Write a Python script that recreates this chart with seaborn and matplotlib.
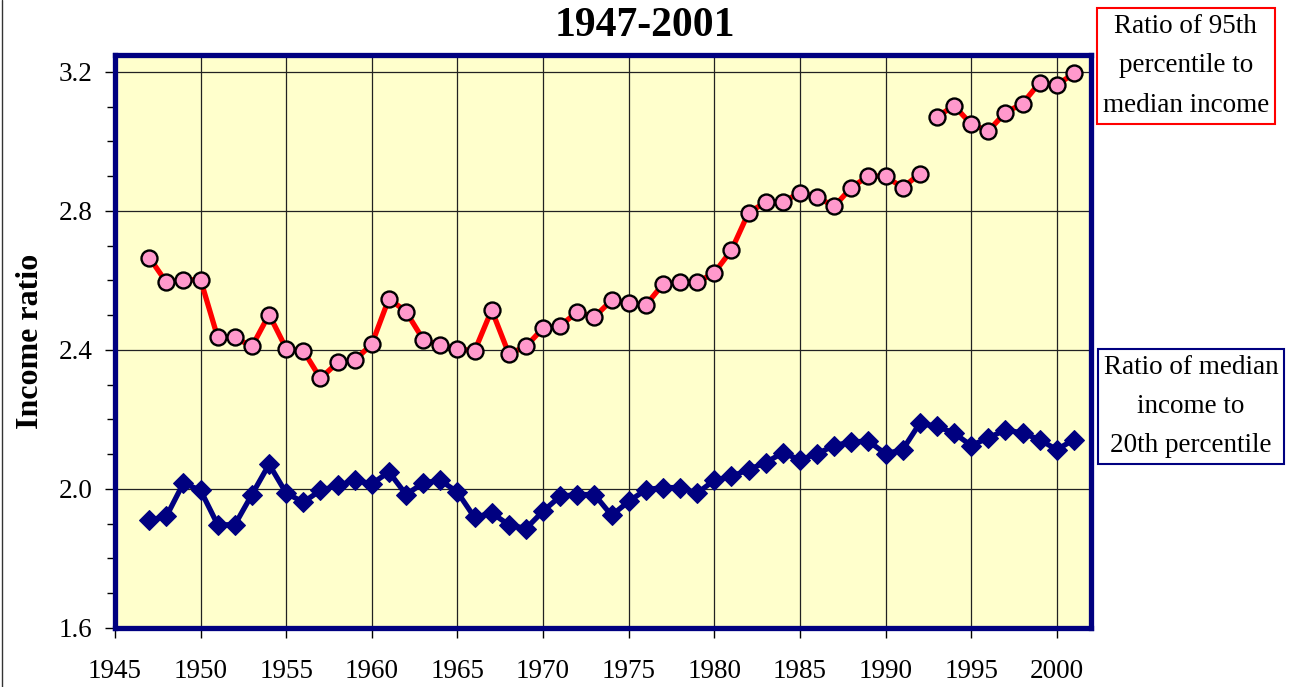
import numpy as np
import pandas as pd
import matplotlib
matplotlib.use('Agg')
import matplotlib.pyplot as plt
from matplotlib.ticker import MultipleLocator, FormatStrFormatter
from matplotlib.lines import Line2D
import seaborn as sns

# Data
years = list(range(1947, 2002))

ratio_95_median = [2.666, 2.595, 2.602, 2.602, 2.436, 2.436, 2.410, 2.502, 2.404, 2.398,
                   2.318, 2.364, 2.370, 2.417, 2.548, 2.510, 2.430, 2.413, 2.404, 2.397,
                   2.515, 2.389, 2.410, 2.463, 2.469, 2.510, 2.495, 2.543, 2.536, 2.529,
                   2.589, 2.595, 2.595, 2.622, 2.687, 2.795, 2.825, 2.825, 2.853, 2.840,
                   2.813, 2.867, 2.901, 2.900, 2.867, 2.907, 3.070, 3.103, 3.050, 3.030,
                   3.083, 3.109, 3.169, 3.162, 3.196]

ratio_median_20 = [1.910, 1.921, 2.017, 1.996, 1.897, 1.897, 1.984, 2.071, 1.988, 1.962,
                   1.996, 2.010, 2.025, 2.015, 2.049, 1.984, 2.017, 2.025, 1.991, 1.918,
                   1.931, 1.897, 1.886, 1.936, 1.979, 1.984, 1.984, 1.924, 1.964, 1.998,
                   2.004, 2.004, 1.988, 2.025, 2.036, 2.056, 2.076, 2.104, 2.084, 2.101,
                   2.125, 2.135, 2.138, 2.101, 2.113, 2.189, 2.180, 2.161, 2.125, 2.147,
                   2.170, 2.161, 2.142, 2.113, 2.142]

# the top series has a break between 1992 and 1993
segment = ['a' if y <= 1992 else 'b' for y in years]

df = pd.DataFrame({'year': years, 'top': ratio_95_median,
                   'bottom': ratio_median_20, 'segment': segment})

sns.set_style('white')
plt.rcParams['font.family'] = ['Liberation Serif', 'DejaVu Serif']
plt.rcParams['text.color'] = 'black'
plt.rcParams['axes.labelcolor'] = 'black'
plt.rcParams['xtick.color'] = 'black'
plt.rcParams['ytick.color'] = 'black'

fig = plt.figure(figsize=(12.89, 6.87), dpi=100)
ax = fig.add_axes([0.0892, 0.0859, 0.7572, 0.8347])
ax.set_facecolor('#FFFFCC')

sns.lineplot(data=df, x='year', y='top', units='segment', estimator=None,
             color='#FF0000', linewidth=3.8, marker='o', markersize=11.5,
             markerfacecolor='#FF99CC', markeredgecolor='black',
             markeredgewidth=1.7, ax=ax, zorder=3)
sns.lineplot(data=df, x='year', y='bottom', color='#000080', linewidth=3.8,
             marker='D', markersize=10.5, markerfacecolor='#000080',
             markeredgecolor='#000080', ax=ax, zorder=3)

ax.set_xlim(1945, 2002)
ax.set_ylim(1.6, 3.25)
ax.xaxis.set_major_locator(MultipleLocator(5))
ax.yaxis.set_major_locator(MultipleLocator(0.4))
ax.yaxis.set_minor_locator(MultipleLocator(0.1))
ax.yaxis.set_major_formatter(FormatStrFormatter('%.1f'))
ax.grid(True, which='major', color='#222222', linewidth=0.9)
ax.set_axisbelow(True)

for sp in ax.spines.values():
    sp.set_color('#000080')
    sp.set_linewidth(3.8)
    sp.set_visible(True)

ax.tick_params(axis='both', which='major', direction='out', length=7, width=1,
               color='black', labelcolor='black', labelsize=19.5,
               left=True, bottom=True)
ax.tick_params(axis='y', which='minor', direction='out', length=6, width=1,
               color='black', left=True)
ax.tick_params(axis='x', pad=15)
ax.tick_params(axis='y', pad=9)

ax.set_xlabel('')
ax.set_ylabel('Income ratio', fontsize=23, fontweight='bold', labelpad=10,
              color='black')

fig.text(0.5, 0.962, '1947-2001', ha='center', va='center',
         fontsize=30, fontweight='bold', color='black')

fig.text(0.920, 0.904, 'Ratio of 95th\npercentile to\nmedian income',
         ha='center', va='center', fontsize=19.5, linespacing=1.75,
         color='black',
         bbox=dict(boxstyle='square,pad=0.22', facecolor='white',
                   edgecolor='#FF0000', linewidth=1.5))
fig.text(0.924, 0.408, 'Ratio of median\nincome to\n20th percentile',
         ha='center', va='center', fontsize=19.5, linespacing=1.75,
         color='black',
         bbox=dict(boxstyle='square,pad=0.22', facecolor='white',
                   edgecolor='#000080', linewidth=1.5))

# thin border at the left edge of the picture
fig.add_artist(Line2D([0.0015, 0.0015], [0, 1], color='#333333', linewidth=1,
                      transform=fig.transFigure))

fig.savefig('out.png', dpi=100)
